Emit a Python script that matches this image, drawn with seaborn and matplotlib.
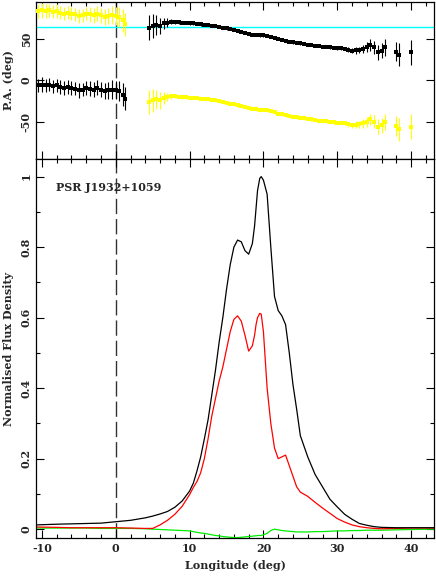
#!/usr/bin/env python3

import numpy as np
import pandas as pd
import matplotlib
matplotlib.use("Agg")
import matplotlib.pyplot as plt
from matplotlib.ticker import MultipleLocator, FuncFormatter
import seaborn as sns

# Position angle, leading part (deg)
lon_pa_left = [-10.5, -10.0, -9.5, -9.0, -8.5, -8.0, -7.5, -7.0, -6.5, -6.0, -5.5, -5.0,
               -4.5, -4.0, -3.5, -3.0, -2.5, -2.0, -1.5, -1.0, -0.5, 0.0, 0.5, 1.0, 1.3]
pa_left = [-6, -5, -6, -5, -7, -6, -8, -9, -8, -9, -10, -12,
           -11, -9, -10, -11, -9, -11, -13, -12, -11, -12, -13, -17, -22]
pa_left_err = [8, 9, 8, 8, 8, 8, 8, 8, 8, 8, 8, 9,
               8, 8, 9, 9, 9, 9, 10, 10, 11, 11, 12, 14, 14]

# Position angle, main part (deg)
lon_pa_right = [4.5, 5.0, 5.5, 6.0, 6.5, 7.0, 7.5, 8.0, 8.5, 9.0, 9.5, 10.0,
                10.5, 11.0, 11.5, 12.0, 12.5, 13.0, 13.5, 14.0, 14.5, 15.0, 15.5, 16.0,
                16.5, 17.0, 17.5, 18.0, 18.5, 19.0, 19.5, 20.0, 20.5, 21.0, 21.5, 22.0,
                22.5, 23.0, 23.5, 24.0, 24.5, 25.0, 25.5, 26.0, 26.5, 27.0, 27.5, 28.0,
                28.5, 29.0, 29.5, 30.0, 30.5, 31.0, 31.5, 32.0, 32.5, 33.0, 33.5, 34.0,
                34.5, 35.0, 35.5, 36.0, 36.5, 38.0, 38.3, 40.0]
pa_right = [64, 66, 67, 66, 69, 70, 71, 71, 70.5, 70, 69.5, 69,
            69, 68.5, 68, 67.5, 67, 66.5, 66, 65, 64, 63, 62, 61,
            60, 59, 58, 56.5, 55.5, 55, 54.5, 54.5, 54, 53, 51.5, 50,
            49, 48, 47, 46, 45.5, 45, 44, 43.5, 43, 42, 41.5, 41,
            40.5, 40, 39.5, 39, 39, 38.5, 37, 36, 36.5, 37, 38, 40,
            43, 40, 34, 36, 40, 35, 31, 34]
pa_right_err = [15, 14, 12, 10, 7, 5, 3, 2.5, 2, 2, 1.5, 1.5,
                1.5, 1.5, 1.5, 1.5, 1.5, 1.5, 1.5, 1.5, 1.5, 1.5, 1.5, 1.5,
                1.5, 1.5, 1.5, 1.5, 1.5, 1.5, 1.5, 1.5, 1.5, 1.5, 1.5, 1.5,
                1.5, 1.5, 1.5, 1.5, 1.5, 1.5, 1.5, 1.5, 1.5, 1.5, 1.5, 1.5,
                1.5, 1.5, 2, 2, 2, 2, 3, 3, 4, 4, 5, 6,
                7, 8, 9, 9, 10, 12, 14, 15]

# Reference PA line (deg)
pa_ref = 65

# Profiles: total intensity, linear and circular polarisation
lon_prof = [-10.8, -8, -6, -4, -2, 0, 2, 4, 5, 6, 7, 8, 9, 10, 10.5, 11, 11.5, 12,
            12.5, 13, 13.5, 14, 14.5, 15, 15.5, 16, 16.5, 17, 17.5, 18, 18.5, 18.8,
            19, 19.2, 19.5, 19.7, 20, 20.5, 21, 21.5, 22, 22.5, 23, 23.5, 24, 24.5,
            25, 26, 27, 28, 29, 30, 31, 32, 33, 34, 35, 36, 38, 40, 43.1]
stokes_i = [0.012, 0.014, 0.015, 0.016, 0.017, 0.021, 0.025, 0.032, 0.037, 0.043,
            0.050, 0.062, 0.080, 0.108, 0.13, 0.165, 0.205, 0.256,
            0.31, 0.38, 0.45, 0.53, 0.60, 0.68, 0.75, 0.80, 0.82, 0.815, 0.79, 0.78,
            0.81, 0.86, 0.91, 0.96, 0.995, 1.0, 0.99, 0.95, 0.80, 0.66, 0.62, 0.605,
            0.58, 0.50, 0.41, 0.34, 0.265, 0.205, 0.155, 0.12, 0.085, 0.063, 0.042,
            0.028, 0.016, 0.011, 0.007, 0.005, 0.004, 0.004, 0.004]
stokes_l = [0.006, 0.005, 0.004, 0.004, 0.004, 0.004, 0.003, 0.002, 0.002, 0.012,
            0.025, 0.042, 0.065, 0.098, 0.118, 0.135, 0.16, 0.20,
            0.256, 0.32, 0.37, 0.42, 0.46, 0.51, 0.56, 0.595, 0.605, 0.59, 0.55, 0.505,
            0.52, 0.55, 0.58, 0.60, 0.612, 0.61, 0.56, 0.40, 0.30, 0.23, 0.20, 0.205,
            0.21, 0.18, 0.15, 0.12, 0.105, 0.093, 0.076, 0.06, 0.045, 0.03, 0.02,
            0.012, 0.007, 0.004, 0.002, 0.001, 0.002, 0.003, 0.003]
stokes_v = [0.003, 0.003, 0.003, 0.003, 0.002, 0.002, 0.002, 0.001, 0.0, -0.001,
            -0.002, -0.003, -0.004, -0.005, -0.007, -0.009, -0.011, -0.012,
            -0.014, -0.016, -0.018, -0.019, -0.021, -0.022, -0.023, -0.024, -0.024,
            -0.023, -0.022, -0.021, -0.020, -0.019, -0.019, -0.018, -0.018, -0.018,
            -0.016, -0.012, -0.004, 0.0, -0.002, -0.004, -0.005, -0.006, -0.007,
            -0.008, -0.008, -0.008, -0.007, -0.007, -0.006, -0.005, -0.005, -0.004,
            -0.004, -0.003, -0.003, -0.003, -0.002, -0.001, 0.0]

psr_name = "PSR J1932+1059"

sns.set_style("ticks")
plt.rcParams["font.family"] = ["DejaVu Serif"]
plt.rcParams["font.weight"] = "bold"
plt.rcParams["font.size"] = 8

fig = plt.figure(figsize=(4.36, 5.80), dpi=100)
ax_pa = fig.add_axes([0.0826, 0.7259, 0.9128, 0.2707])
ax_pr = fig.add_axes([0.0826, 0.0719, 0.9128, 0.6540], sharex=ax_pa)

# --- PA panel ---
pa_df = pd.DataFrame({
    "lon": lon_pa_left + lon_pa_right,
    "pa": pa_left + pa_right,
    "err": pa_left_err + pa_right_err,
})
# orthogonal mode, shifted by 90 deg
pa_df["opm"] = np.where(pa_df["pa"] < 0, pa_df["pa"] + 90, pa_df["pa"] - 90)

ax_pa.axhline(pa_ref, color="#00ffff", lw=1.0, zorder=1)
ax_pa.errorbar(pa_df["lon"], pa_df["opm"], yerr=pa_df["err"], fmt="none",
               ecolor="#ffff00", elinewidth=0.8, zorder=2)
sns.scatterplot(data=pa_df, x="lon", y="opm", ax=ax_pa, color="#ffff00",
                marker="s", s=6, linewidth=0, zorder=3)
ax_pa.errorbar(pa_df["lon"], pa_df["pa"], yerr=pa_df["err"], fmt="none",
               ecolor="black", elinewidth=0.8, zorder=4)
sns.scatterplot(data=pa_df, x="lon", y="pa", ax=ax_pa, color="black",
                marker="s", s=6, linewidth=0, zorder=5)
ax_pa.axvline(0, color="#333333", lw=1.0, dashes=(11, 3.6), zorder=0)

ax_pa.set_ylim(-95, 95)
ax_pa.set_ylabel("P.A. (deg)", fontweight="bold")
ax_pa.set_xlabel("")
ax_pa.yaxis.set_major_locator(MultipleLocator(50))
ax_pa.tick_params(axis="x", labelbottom=False)

# --- profile panel ---
prof_df = pd.DataFrame({
    "lon": lon_prof * 3,
    "flux": stokes_i + stokes_l + stokes_v,
    "stokes": ["I"] * len(lon_prof) + ["L"] * len(lon_prof) + ["V"] * len(lon_prof),
})
sns.lineplot(data=prof_df, x="lon", y="flux", hue="stokes", ax=ax_pr,
             palette={"I": "black", "L": "#ff0000", "V": "#00ee00"},
             hue_order=["V", "L", "I"], estimator=None, sort=False,
             linewidth=0.9, legend=False)
ax_pr.axvline(0, color="#333333", lw=1.0, dashes=(11, 3.6), zorder=0)
ax_pr.text(-8.1, 0.97, psr_name, va="center", ha="left", fontweight="bold")

ax_pr.set_xlim(-10.8, 43.1)
ax_pr.set_ylim(-0.026, 1.05)
ax_pr.set_xlabel("Longitude (deg)", fontweight="bold")
ax_pr.set_ylabel("Normalised Flux Density", fontweight="bold")
ax_pr.yaxis.set_major_locator(MultipleLocator(0.2))
ax_pr.yaxis.set_minor_locator(MultipleLocator(0.1))

fmt = FuncFormatter(lambda v, p: "%g" % round(v, 6))
for ax in (ax_pa, ax_pr):
    ax.xaxis.set_major_locator(MultipleLocator(10))
    ax.xaxis.set_minor_locator(MultipleLocator(2))
    ax.yaxis.set_major_formatter(fmt)
    ax.xaxis.set_major_formatter(fmt)
    ax.tick_params(which="both", direction="in", top=True, right=True,
                   color="black", width=0.8)
    ax.tick_params(which="major", length=6)
    ax.tick_params(which="minor", length=3)
    ax.tick_params(axis="y", labelrotation=90, pad=3)
    for lbl in ax.get_yticklabels():
        lbl.set_va("center")
    for sp in ax.spines.values():
        sp.set_linewidth(0.9)
        sp.set_color("black")

ax_pa.yaxis.set_label_coords(-0.055, 0.5)
ax_pr.yaxis.set_label_coords(-0.055, 0.5)

fig.savefig("out.png", dpi=100)
